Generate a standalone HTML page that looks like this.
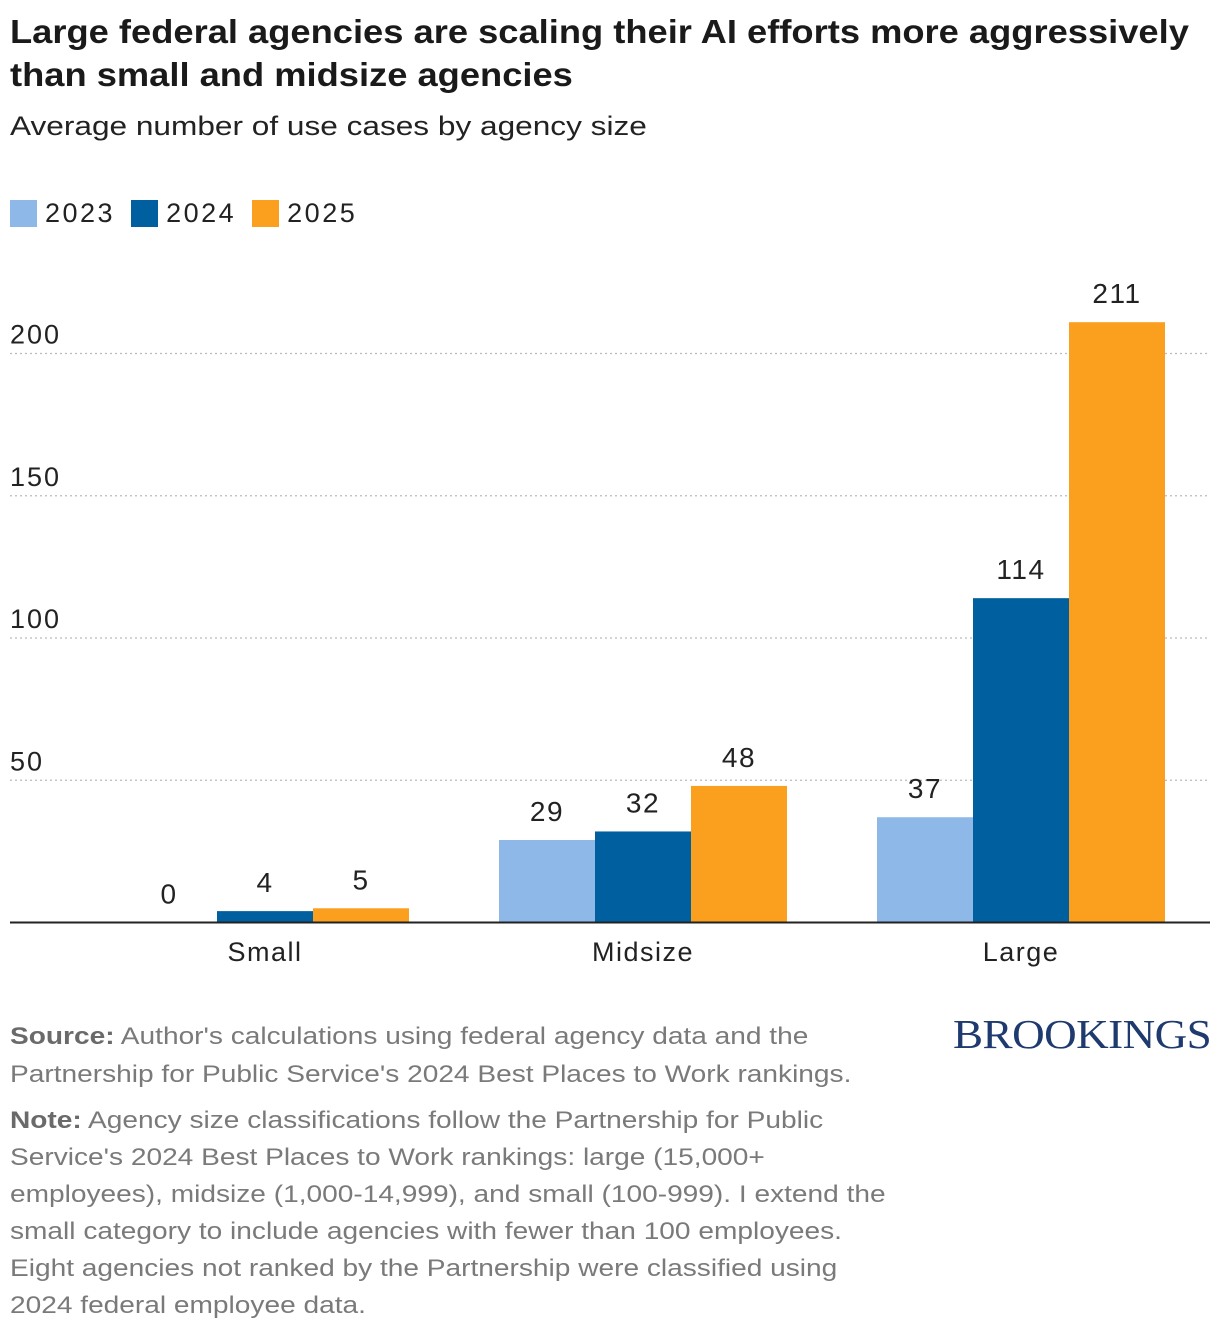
<!DOCTYPE html>
<html><head><meta charset="utf-8"><style>
body{margin:0;background:#fff;font-family:"Liberation Sans",sans-serif;}
#wrap{position:relative;width:1220px;height:1334px;overflow:hidden;}
.t{position:absolute;left:10px;white-space:nowrap;transform-origin:0 0;}
</style></head><body><div id="wrap">
<div class="t" style="top:10px;font-size:33px;font-weight:bold;line-height:43px;color:#1a1a1a;transform:scaleX(1.1);">Large federal agencies are scaling their AI efforts more aggressively<br>than small and midsize agencies</div>
<div class="t" style="top:111px;font-size:27px;color:#222;transform:scaleX(1.17);">Average number of use cases by agency size</div>
<div class="t" style="top:198px;font-size:27px;color:#222;display:flex;align-items:center;letter-spacing:2.5px;">
<span style="display:flex;align-items:center;margin-right:16px;"><i style="display:inline-block;width:27px;height:27px;background:#8db8e8;margin-right:8px"></i>2023</span>
<span style="display:flex;align-items:center;margin-right:16px;"><i style="display:inline-block;width:27px;height:27px;background:#005f9e;margin-right:8px"></i>2024</span>
<span style="display:flex;align-items:center;"><i style="display:inline-block;width:27px;height:27px;background:#fb9f1e;margin-right:8px"></i>2025</span>
</div>
<svg id="chart" width="1220" height="1000" style="position:absolute;left:0;top:0" font-family="Liberation Sans, sans-serif"></svg>
<div class="t" style="top:1018px;font-size:24px;line-height:38px;color:#7a7a7a;transform:scaleX(1.17);"><b style="color:#6a6a6a">Source:</b> Author's calculations using federal agency data and the<br>Partnership for Public Service's 2024 Best Places to Work rankings.</div>
<div class="t" style="top:1102px;font-size:24px;line-height:37px;color:#7a7a7a;transform:scaleX(1.17);"><b style="color:#6a6a6a">Note:</b> Agency size classifications follow the Partnership for Public<br>Service's 2024 Best Places to Work rankings: large (15,000+<br>employees), midsize (1,000-14,999), and small (100-999). I extend the<br>small category to include agencies with fewer than 100 employees.<br>Eight agencies not ranked by the Partnership were classified using<br>2024 federal employee data.</div>
<div style="position:absolute;left:953px;top:1010px;font-family:'Liberation Serif',serif;font-size:41px;color:#1e3a6e;letter-spacing:-0.5px;transform:scaleX(1.1);transform-origin:0 0;">BROOKINGS</div>
</div>
<script>
const categories=["Small","Midsize","Large"];
const series=["2023","2024","2025"];
const v2023=[0,29,37];
const v2024=[4,32,114];
const v2025=[5,48,211];
const ticks=[50,100,150,200];
const colors=["#8db8e8","#005f9e","#fb9f1e"];
const svg=document.getElementById('chart');
const NS="http://www.w3.org/2000/svg";
const y0=922.5,k=2.845;
const y=v=>y0-v*k;
const cx=i=>265+i*378;
const bw=96;
function mk(t,a){const e=document.createElementNS(NS,t);for(const n in a)e.setAttribute(n,a[n]);svg.appendChild(e);return e;}
ticks.forEach(t=>{
 const l=mk('line',{x1:10,x2:1210,y1:y(t),y2:y(t),stroke:'#bbb','stroke-dasharray':'2,3','stroke-width':1.2});
 
 
 const tx=mk('text',{x:10,y:y(t)-10,'font-size':27,fill:'#222','letter-spacing':2});tx.textContent=t;
 
 
});
[v2023,v2024,v2025].forEach((vals,s)=>{
 vals.forEach((v,i)=>{
  const x=cx(i)-1.5*bw+s*bw;
  const r=mk('rect',{x:x,y:y(v),width:bw,height:v*k,fill:colors[s]});
  
  
  const tx=mk('text',{x:x+bw/2,y:y(v)-19,'font-size':28,fill:'#222','text-anchor':'middle','letter-spacing':1.5});tx.textContent=v;
  
  
 });
});
const ax=mk('line',{x1:10,x2:1210,y1:y0,y2:y0,stroke:'#222','stroke-width':2});


categories.forEach((c,i)=>{
 const tx=mk('text',{x:cx(i),y:961,'font-size':27,fill:'#222','text-anchor':'middle','letter-spacing':1.5});tx.textContent=c;
 
 
});
</script></body></html>
